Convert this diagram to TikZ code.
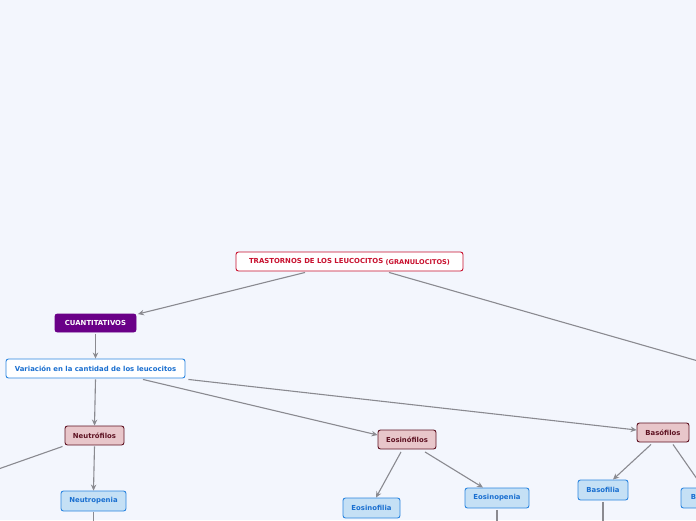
\documentclass[tikz,border=0pt]{standalone}
\usepackage{fontspec}
\setmainfont{DejaVu Sans}
\usetikzlibrary{arrows.meta}
\definecolor{bg}{HTML}{F3F6FD}
\definecolor{rootc}{HTML}{C8102E}
\definecolor{purp}{HTML}{6A0088}
\definecolor{blueb}{HTML}{2A85E0}
\definecolor{bluet}{HTML}{1A6FD0}
\definecolor{pinkf}{HTML}{E8C6CA}
\definecolor{pinkb}{HTML}{5E1222}
\definecolor{lbf}{HTML}{C5E0F5}
\definecolor{edgec}{HTML}{8A8A90}
\tikzset{
  box/.style={rectangle, rounded corners=2.5pt, line width=0.9pt, inner sep=0pt, align=center, font=\fontsize{6.9}{8}\selectfont\bfseries},
  rootbox/.style={box, draw=rootc, fill=white, text=rootc},
  purpbox/.style={box, draw=purp, fill=purp, text=white},
  wbbox/.style={box, draw=blueb, fill=white, text=bluet},
  pinkbox/.style={box, draw=pinkb, fill=pinkf, text=pinkb},
  lbbox/.style={box, draw=blueb, fill=lbf, text=bluet},
  conn/.style={draw=edgec, line width=1.1pt},
  arr/.style={conn, -{Stealth[length=6pt,width=5.5pt]}}
}
\begin{document}
\begin{tikzpicture}[x=1pt,y=-1pt]
\useasboundingbox (0,0) rectangle (696,520);
\fill[bg] (0,0) rectangle (696,520);
\clip (0,0) rectangle (696,520);
\node[rootbox, minimum width=227pt, minimum height=19pt] (root) at (349.5,261.5)
  {TRASTORNOS DE LOS LEUCOCITOS \raisebox{-1pt}{\fontsize{6.6}{8}\selectfont(GRANULOCITOS)}};
\node[purpbox, minimum width=81pt, minimum height=18pt] (cuant) at (95.5,323) {CUANTITATIVOS};
\node[wbbox, minimum width=179pt, minimum height=19pt] (var) at (95.5,368.5) {Variación en la cantidad de los leucocitos};
\node[pinkbox, minimum width=59pt, minimum height=19pt] (neut) at (94.5,435.5) {Neutrófilos};
\node[lbbox, minimum width=65pt, minimum height=20pt] (npen) at (93.5,501) {Neutropenia};
\node[pinkbox, minimum width=58pt, minimum height=19pt] (eos) at (407,439.5) {Eosinófilos};
\node[lbbox, minimum width=57pt, minimum height=20pt] (eofil) at (371.5,508) {Eosinofilia};
\node[lbbox, minimum width=64pt, minimum height=20pt] (eopen) at (497,498) {Eosinopenia};
\node[pinkbox, minimum width=52pt, minimum height=19pt] (bas) at (663,432.5) {Basófilos};
\node[lbbox, minimum width=50pt, minimum height=20pt] (bfil) at (603,490) {Basofilia};
\node[lbbox, minimum width=60pt, minimum height=20pt] (bpen) at (711,498) {Basopenia};
\coordinate (offR) at (740,373);
\coordinate (offL) at (-30,479);
\coordinate (npenD) at (93.5,530);
\coordinate (eopenD) at (497,530);
\coordinate (bfilD) at (603,530);
\draw[arr] ([shift={(-44.5,1)}]root.south) -- ([shift={(1.5,0.5)}]cuant.north east);
\draw[conn] ([shift={(39.5,1)}]root.south) -- (offR);
\draw[arr] ([shift={(0,1.5)}]cuant.south) -- (var.north);
\draw[arr] ([shift={(0,1)}]var.south) -- (neut.north);
\draw[arr] ([shift={(47.5,1)}]var.south) -- ([shift={(0,-4.5)}]eos.west);
\draw[arr] ([shift={(3,1)}]var.south east) -- ([shift={(0,-2.5)}]bas.west);
\draw[conn] ([shift={(-2,1)}]neut.south west) -- (offL);
\draw[arr] ([shift={(0,1)}]neut.south) -- (npen.north);
\draw[conn] ([shift={(0,1)}]npen.south) -- (npenD);
\draw[arr] ([shift={(-6,2.5)}]eos.south) -- ([shift={(4.5,0)}]eofil.north);
\draw[arr] ([shift={(18,2.5)}]eos.south) -- ([shift={(-14,0)}]eopen.north);
\draw[conn] ([shift={(0,1.5)}]eopen.south) -- (eopenD);
\draw[arr] ([shift={(-12,2)}]bas.south) -- ([shift={(10,0)}]bfil.north);
\draw[arr] ([shift={(10,2)}]bas.south) -- ([shift={(-8,0)}]bpen.north);
\draw[conn] ([shift={(0,1.5)}]bfil.south) -- (bfilD);
\end{tikzpicture}
\end{document}
